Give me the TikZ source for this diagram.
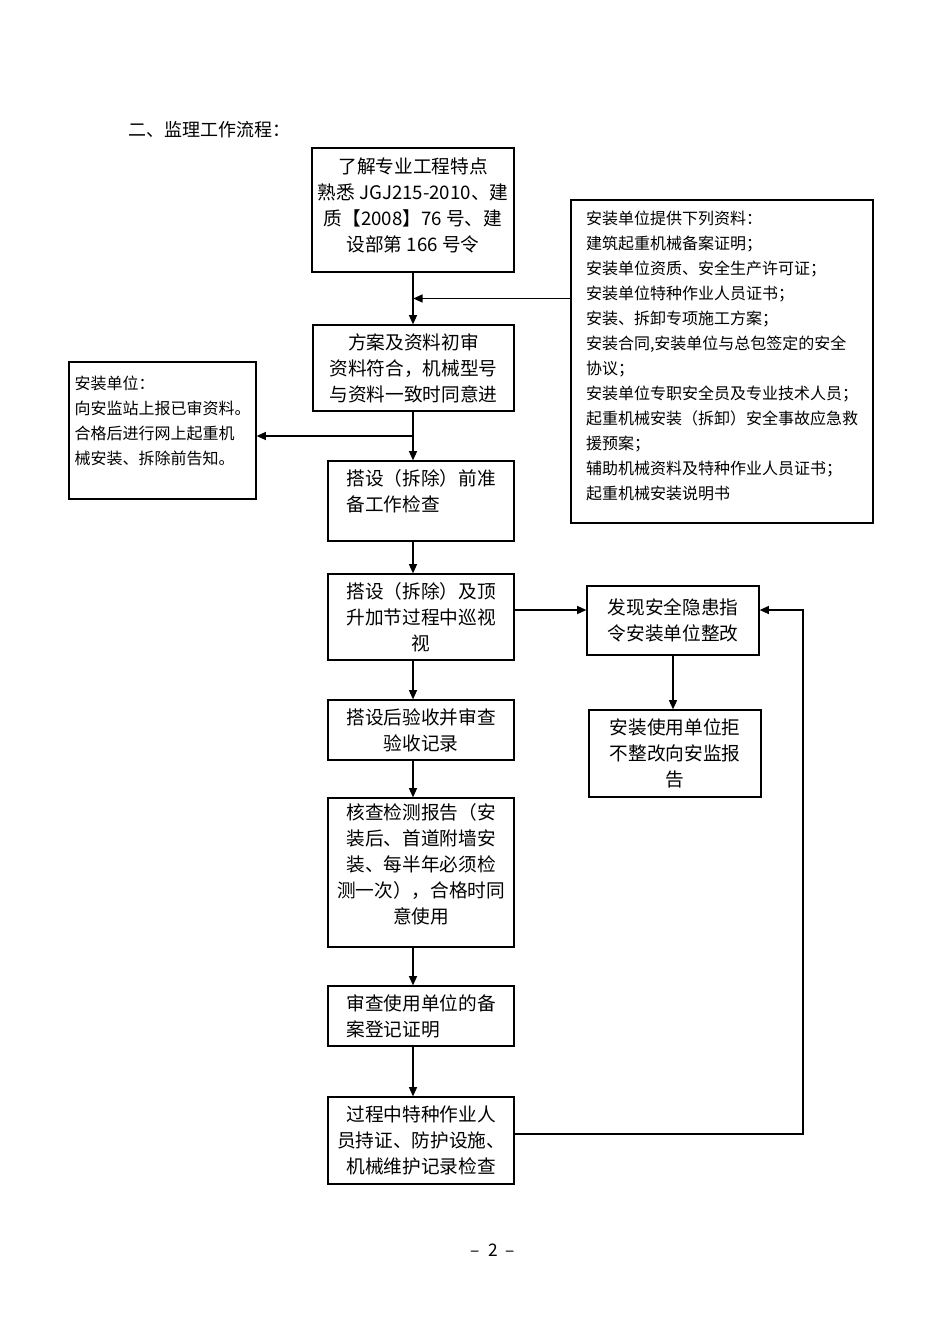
\documentclass[tikz,border=0pt]{standalone}
\usepackage{fontspec}
\setmainfont{Noto Sans CJK SC}
\usetikzlibrary{arrows.meta,positioning,calc}
\newcommand{\boxfont}{\fontsize{14}{19.5}\selectfont}
\newcommand{\notefont}{\fontsize{12}{18.75}\selectfont}
\tikzset{
  flowbox/.style={draw, line width=0.9pt, minimum width=139.5pt, align=center, inner sep=2pt, font=\boxfont},
  notebox/.style={draw, line width=0.9pt, align=left, inner sep=4pt, font=\notefont},
  flowarrow/.style={-{Triangle[length=7pt,width=6pt]}, line width=1.1pt}
}

\begin{document}
\begin{tikzpicture}[x=0.75pt,y=-0.75pt]
  \useasboundingbox (0,0) rectangle (950,1344);

  % heading
  \node[anchor=west, inner sep=0pt, font=\fontsize{13.5}{16}\selectfont] (title) at (128,130) {二、监理工作流程：};

  % main column
  \node[flowbox, minimum width=151.5pt, minimum height=93pt] (know) at (413,210)
    {了解专业工程特点\\熟悉 JGJ215-2010、建\\质【2008】76 号、建\\设部第 166 号令\\[-11.5pt]};
  \node[flowbox, minimum width=150.75pt, minimum height=64.5pt] (review) at (413.5,368)
    {方案及资料初审\\资料符合，机械型号\\与资料一致时同意进};
  \node[flowbox, align=left, minimum height=60pt] (prep) at (421,501)
    {搭设（拆除）前准\\备工作检查\\[-4.5pt]};
  \node[flowbox, minimum height=64.5pt] (patrol) at (421,617)
    {搭设（拆除）及顶\\升加节过程中巡视\\视};
  \node[flowbox, minimum height=45pt] (accept) at (421,730)
    {搭设后验收并审查\\验收记录};
  \node[flowbox, minimum height=111.75pt] (check) at (421,872.5)
    {核查检测报告（安\\装后、首道附墙安\\装、每半年必须检\\测一次），合格时同\\意使用\\[-6.7pt]};
  \node[flowbox, align=left, minimum height=45pt] (record) at (421,1016)
    {审查使用单位的备\\案登记证明};
  \node[flowbox, minimum height=65.25pt] (operate) at (421,1140.5)
    {过程中特种作业人\\员持证、防护设施、\\机械维护记录检查};

  % side boxes
  \node[notebox, minimum width=226.5pt, minimum height=242.25pt] (docs) at (722,361.5)
    {安装单位提供下列资料：\\建筑起重机械备案证明；\\安装单位资质、安全生产许可证；\\安装单位特种作业人员证书；\\安装、拆卸专项施工方案；\\安装合同,安装单位与总包签定的安全\\协议；\\安装单位专职安全员及专业技术人员；\\起重机械安装（拆卸）安全事故应急救\\援预案；\\辅助机械资料及特种作业人员证书；\\起重机械安装说明书\\[-8.75pt]};
  \node[notebox, minimum width=140.25pt, minimum height=102.75pt] (notice) at (162.5,430.5)
    {安装单位：\\向安监站上报已审资料。\\合格后进行网上起重机\\械安装、拆除前告知。\\[-2.75pt]};
  \node[flowbox, minimum width=129pt, minimum height=51.75pt] (hazard) at (673,620.5)
    {发现安全隐患指\\令安装单位整改};
  \node[flowbox, minimum width=129pt, minimum height=65.25pt] (refuse) at (675,753.5)
    {安装使用单位拒\\不整改向安监报\\告};

  % junctions
  \coordinate (j1) at ($(know.south)!0.5!(review.north)$);
  \coordinate (j2) at (413,436);
  \coordinate (back) at (803,610);

  % arrows
  \draw[flowarrow] (know.south) -- (know.south |- review.north);
  \draw[flowarrow] (docs.west |- j1) -- (j1);
  \draw[flowarrow] (review.south -| j2) -- (j2 |- prep.north);
  \draw[flowarrow] (j2) -- (notice.east |- j2);
  \draw[flowarrow] (prep.south -| j2) -- (j2 |- patrol.north);
  \draw[flowarrow] (patrol.south -| j2) -- (j2 |- accept.north);
  \draw[flowarrow] (accept.south -| j2) -- (j2 |- check.north);
  \draw[flowarrow] (check.south -| j2) -- (j2 |- record.north);
  \draw[flowarrow] (record.south -| j2) -- (j2 |- operate.north);
  \draw[flowarrow] (patrol.east |- back) -- (hazard.west |- back);
  \draw[flowarrow] (hazard.south) -- (hazard.south |- refuse.north);
  \draw[flowarrow] ([yshift=5pt]operate.east) -| (back) -- (hazard.east |- back);

  % page number
  \node[font=\fontsize{13}{15}\selectfont] (page) at (493,1250) {–\hspace{6pt}2\hspace{6pt}–};
\end{tikzpicture}
\end{document}
